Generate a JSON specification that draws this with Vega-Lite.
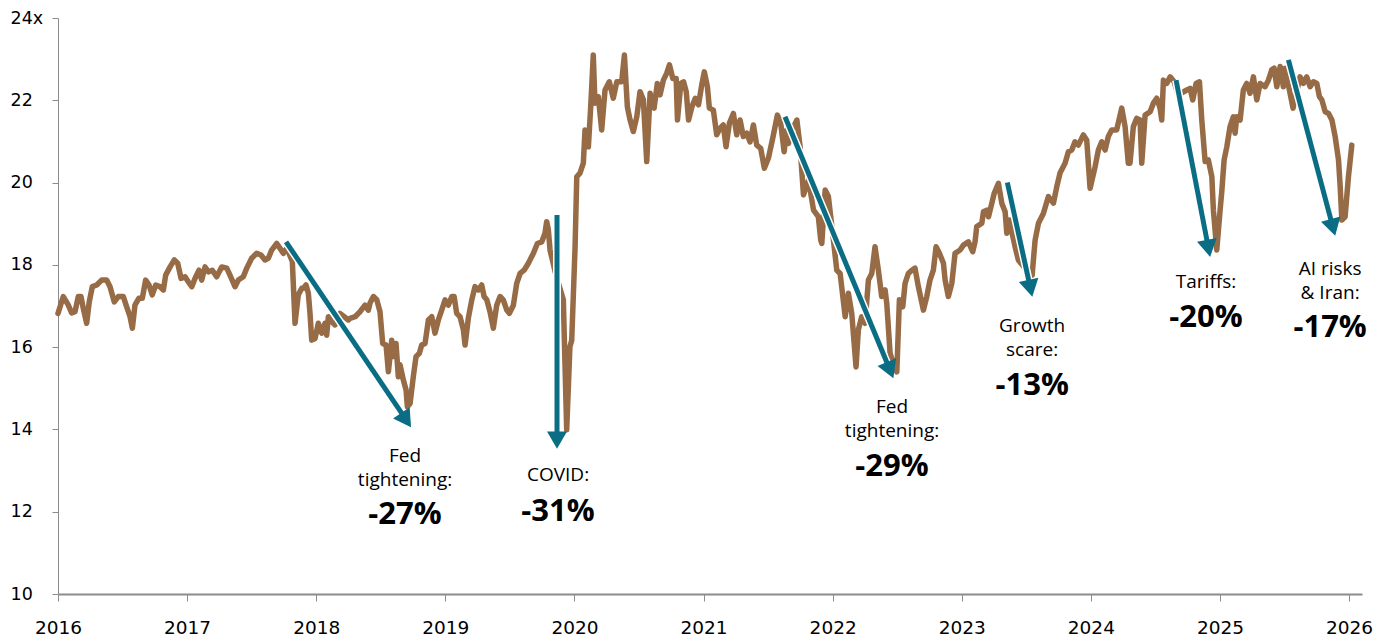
{
"$schema": "https://vega.github.io/schema/vega-lite/v6.json",
"width": 1304,
"height": 576,
"autosize": {"type": "none"},
"padding": {"left": 58, "top": 18, "right": 20, "bottom": 45},
"background": "white",
"config": {"view": {"stroke": null}},
"datasets": {
"pe": [
{"year":2016.000,"pe":16.82},{"year":2016.041,"pe":17.23},{"year":2016.080,"pe":17.02},{"year":2016.106,"pe":16.83},{"year":2016.132,"pe":16.86},{"year":2016.157,"pe":17.23},{"year":2016.178,"pe":17.23},{"year":2016.196,"pe":16.94},{"year":2016.222,"pe":16.58},{"year":2016.242,"pe":17.10},
{"year":2016.266,"pe":17.47},{"year":2016.300,"pe":17.51},{"year":2016.338,"pe":17.63},{"year":2016.377,"pe":17.63},{"year":2016.403,"pe":17.47},{"year":2016.436,"pe":17.10},{"year":2016.467,"pe":17.23},{"year":2016.506,"pe":17.23},{"year":2016.532,"pe":16.98},{"year":2016.558,"pe":16.74},
{"year":2016.576,"pe":16.46},{"year":2016.596,"pe":17.02},{"year":2016.627,"pe":17.19},{"year":2016.653,"pe":17.19},{"year":2016.679,"pe":17.63},{"year":2016.705,"pe":17.51},{"year":2016.730,"pe":17.27},{"year":2016.757,"pe":17.51},{"year":2016.790,"pe":17.47},{"year":2016.816,"pe":17.39},
{"year":2016.834,"pe":17.75},{"year":2016.868,"pe":17.95},{"year":2016.901,"pe":18.12},{"year":2016.927,"pe":18.04},{"year":2016.953,"pe":17.67},{"year":2016.984,"pe":17.71},{"year":2017.009,"pe":17.59},{"year":2017.036,"pe":17.47},{"year":2017.061,"pe":17.67},{"year":2017.092,"pe":17.87},
{"year":2017.113,"pe":17.63},{"year":2017.139,"pe":17.95},{"year":2017.164,"pe":17.83},{"year":2017.195,"pe":17.87},{"year":2017.229,"pe":17.71},{"year":2017.268,"pe":17.95},{"year":2017.307,"pe":17.92},{"year":2017.332,"pe":17.75},{"year":2017.371,"pe":17.47},{"year":2017.397,"pe":17.63},
{"year":2017.435,"pe":17.71},{"year":2017.462,"pe":17.92},{"year":2017.500,"pe":18.16},{"year":2017.539,"pe":18.28},{"year":2017.572,"pe":18.24},{"year":2017.603,"pe":18.12},{"year":2017.629,"pe":18.16},{"year":2017.655,"pe":18.36},{"year":2017.694,"pe":18.52},{"year":2017.720,"pe":18.40},
{"year":2017.745,"pe":18.28},{"year":2017.772,"pe":18.40},{"year":2017.784,"pe":18.32},{"year":2017.815,"pe":18.08},{"year":2017.836,"pe":16.58},{"year":2017.861,"pe":17.27},{"year":2017.888,"pe":17.43},{"year":2017.900,"pe":17.43},{"year":2017.921,"pe":17.51},{"year":2017.939,"pe":17.31},
{"year":2017.952,"pe":16.82},{"year":2017.965,"pe":16.17},{"year":2017.991,"pe":16.21},{"year":2018.016,"pe":16.58},{"year":2018.043,"pe":16.34},{"year":2018.068,"pe":16.58},{"year":2018.081,"pe":16.29},{"year":2018.094,"pe":16.74},{"year":2018.120,"pe":16.62},{"year":2018.146,"pe":16.54},
{"year":2018.184,"pe":16.82},{"year":2018.249,"pe":16.66},{"year":2018.262,"pe":16.70},{"year":2018.301,"pe":16.74},{"year":2018.339,"pe":16.86},{"year":2018.378,"pe":17.02},{"year":2018.404,"pe":16.90},{"year":2018.417,"pe":17.07},{"year":2018.443,"pe":17.23},{"year":2018.469,"pe":17.15},
{"year":2018.494,"pe":16.86},{"year":2018.515,"pe":16.09},{"year":2018.541,"pe":16.05},{"year":2018.559,"pe":15.40},{"year":2018.585,"pe":16.17},{"year":2018.597,"pe":15.77},{"year":2018.618,"pe":16.09},{"year":2018.636,"pe":15.28},{"year":2018.649,"pe":15.57},{"year":2018.675,"pe":15.20},
{"year":2018.696,"pe":14.96},{"year":2018.706,"pe":14.55},{"year":2018.727,"pe":14.63},{"year":2018.752,"pe":15.28},{"year":2018.773,"pe":15.77},{"year":2018.799,"pe":15.85},{"year":2018.817,"pe":16.05},{"year":2018.843,"pe":16.09},{"year":2018.869,"pe":16.66},{"year":2018.895,"pe":16.74},
{"year":2018.920,"pe":16.34},{"year":2018.946,"pe":16.66},{"year":2018.972,"pe":16.90},{"year":2018.998,"pe":17.15},{"year":2019.023,"pe":17.02},{"year":2019.050,"pe":17.23},{"year":2019.068,"pe":17.23},{"year":2019.088,"pe":16.82},{"year":2019.114,"pe":16.74},{"year":2019.140,"pe":16.42},
{"year":2019.153,"pe":16.05},{"year":2019.178,"pe":16.70},{"year":2019.205,"pe":17.15},{"year":2019.230,"pe":17.47},{"year":2019.256,"pe":17.39},{"year":2019.282,"pe":17.51},{"year":2019.300,"pe":17.23},{"year":2019.321,"pe":17.15},{"year":2019.346,"pe":16.86},{"year":2019.372,"pe":16.46},
{"year":2019.398,"pe":17.02},{"year":2019.424,"pe":17.23},{"year":2019.449,"pe":17.15},{"year":2019.476,"pe":16.90},{"year":2019.496,"pe":16.82},{"year":2019.527,"pe":17.02},{"year":2019.553,"pe":17.55},{"year":2019.579,"pe":17.79},{"year":2019.610,"pe":17.87},{"year":2019.643,"pe":18.04},
{"year":2019.682,"pe":18.28},{"year":2019.713,"pe":18.52},{"year":2019.747,"pe":18.56},{"year":2019.772,"pe":18.77},{"year":2019.785,"pe":19.05},{"year":2019.798,"pe":18.85},{"year":2019.811,"pe":18.36},{"year":2019.857,"pe":17.75},{"year":2019.914,"pe":17.15},{"year":2019.927,"pe":15.57},
{"year":2019.940,"pe":13.99},{"year":2019.965,"pe":16.01},{"year":2019.979,"pe":16.17},{"year":2020.005,"pe":18.44},{"year":2020.018,"pe":20.14},{"year":2020.043,"pe":20.23},{"year":2020.069,"pe":20.47},{"year":2020.082,"pe":21.28},{"year":2020.095,"pe":20.87},{"year":2020.108,"pe":20.87},
{"year":2020.126,"pe":21.84},{"year":2020.146,"pe":23.10},{"year":2020.159,"pe":21.93},{"year":2020.185,"pe":22.09},{"year":2020.211,"pe":21.28},{"year":2020.237,"pe":22.25},{"year":2020.270,"pe":22.45},{"year":2020.301,"pe":22.05},{"year":2020.328,"pe":22.45},{"year":2020.366,"pe":22.45},
{"year":2020.387,"pe":23.10},{"year":2020.410,"pe":21.84},{"year":2020.431,"pe":21.52},{"year":2020.456,"pe":21.24},{"year":2020.483,"pe":21.60},{"year":2020.508,"pe":22.21},{"year":2020.534,"pe":22.01},{"year":2020.560,"pe":20.51},{"year":2020.586,"pe":22.17},{"year":2020.617,"pe":21.81},
{"year":2020.642,"pe":22.41},{"year":2020.663,"pe":22.13},{"year":2020.689,"pe":22.49},{"year":2020.715,"pe":22.66},{"year":2020.736,"pe":22.86},{"year":2020.762,"pe":22.53},{"year":2020.788,"pe":22.53},{"year":2020.798,"pe":21.52},{"year":2020.824,"pe":22.41},{"year":2020.845,"pe":22.45},
{"year":2020.866,"pe":22.21},{"year":2020.884,"pe":21.52},{"year":2020.910,"pe":21.84},{"year":2020.936,"pe":22.05},{"year":2020.961,"pe":21.89},{"year":2020.986,"pe":22.37},{"year":2021.006,"pe":22.69},{"year":2021.030,"pe":22.33},{"year":2021.045,"pe":21.81},{"year":2021.076,"pe":21.76},
{"year":2021.102,"pe":21.16},{"year":2021.128,"pe":21.32},{"year":2021.153,"pe":21.40},{"year":2021.174,"pe":20.87},{"year":2021.200,"pe":21.44},{"year":2021.231,"pe":21.68},{"year":2021.257,"pe":21.16},{"year":2021.283,"pe":21.52},{"year":2021.308,"pe":21.12},{"year":2021.335,"pe":21.20},
{"year":2021.360,"pe":20.99},{"year":2021.386,"pe":21.40},{"year":2021.412,"pe":20.91},{"year":2021.443,"pe":20.83},{"year":2021.471,"pe":20.35},{"year":2021.502,"pe":20.59},{"year":2021.536,"pe":21.08},{"year":2021.572,"pe":21.64},{"year":2021.598,"pe":21.44},{"year":2021.624,"pe":20.75},
{"year":2021.645,"pe":21.28},{"year":2021.658,"pe":20.95},{"year":2021.692,"pe":21.32},{"year":2021.723,"pe":21.52},{"year":2021.748,"pe":20.87},{"year":2021.774,"pe":19.70},{"year":2021.813,"pe":20.06},{"year":2021.852,"pe":19.33},{"year":2021.889,"pe":19.17},{"year":2021.908,"pe":18.60},
{"year":2021.916,"pe":18.52},{"year":2021.942,"pe":19.82},{"year":2021.967,"pe":19.66},{"year":2022.006,"pe":18.60},{"year":2022.032,"pe":17.87},{"year":2022.058,"pe":17.79},{"year":2022.097,"pe":16.74},{"year":2022.122,"pe":17.31},{"year":2022.148,"pe":16.82},{"year":2022.181,"pe":15.52},
{"year":2022.199,"pe":16.42},{"year":2022.225,"pe":16.74},{"year":2022.251,"pe":16.58},{"year":2022.277,"pe":17.63},{"year":2022.303,"pe":17.79},{"year":2022.328,"pe":18.44},{"year":2022.354,"pe":17.87},{"year":2022.380,"pe":17.23},{"year":2022.406,"pe":17.39},{"year":2022.419,"pe":17.07},
{"year":2022.445,"pe":15.85},{"year":2022.476,"pe":15.52},{"year":2022.497,"pe":15.40},{"year":2022.517,"pe":17.15},{"year":2022.543,"pe":16.98},{"year":2022.561,"pe":17.55},{"year":2022.586,"pe":17.79},{"year":2022.613,"pe":17.87},{"year":2022.638,"pe":17.92},{"year":2022.664,"pe":17.47},
{"year":2022.703,"pe":16.90},{"year":2022.729,"pe":17.23},{"year":2022.754,"pe":17.63},{"year":2022.780,"pe":17.87},{"year":2022.801,"pe":18.44},{"year":2022.827,"pe":18.28},{"year":2022.858,"pe":18.04},{"year":2022.871,"pe":17.63},{"year":2022.896,"pe":17.23},{"year":2022.923,"pe":17.55},
{"year":2022.948,"pe":18.28},{"year":2022.987,"pe":18.36},{"year":2023.013,"pe":18.48},{"year":2023.051,"pe":18.56},{"year":2023.085,"pe":18.32},{"year":2023.103,"pe":18.56},{"year":2023.116,"pe":18.93},{"year":2023.155,"pe":19.01},{"year":2023.168,"pe":19.29},{"year":2023.194,"pe":19.33},
{"year":2023.207,"pe":19.17},{"year":2023.233,"pe":19.50},{"year":2023.251,"pe":19.74},{"year":2023.284,"pe":19.98},{"year":2023.310,"pe":19.50},{"year":2023.336,"pe":19.29},{"year":2023.349,"pe":18.77},{"year":2023.369,"pe":19.09},{"year":2023.387,"pe":18.81},{"year":2023.413,"pe":18.44},
{"year":2023.438,"pe":18.12},{"year":2023.490,"pe":17.92},{"year":2023.545,"pe":17.75},{"year":2023.568,"pe":18.60},{"year":2023.594,"pe":19.01},{"year":2023.632,"pe":19.25},{"year":2023.671,"pe":19.66},{"year":2023.710,"pe":19.50},{"year":2023.736,"pe":19.90},{"year":2023.761,"pe":20.23},
{"year":2023.800,"pe":20.47},{"year":2023.826,"pe":20.75},{"year":2023.852,"pe":20.79},{"year":2023.877,"pe":20.99},{"year":2023.903,"pe":20.91},{"year":2023.942,"pe":21.16},{"year":2023.968,"pe":21.03},{"year":2023.994,"pe":19.86},{"year":2024.033,"pe":20.39},{"year":2024.058,"pe":20.79},
{"year":2024.084,"pe":20.99},{"year":2024.110,"pe":20.79},{"year":2024.135,"pe":21.12},{"year":2024.161,"pe":21.28},{"year":2024.200,"pe":21.28},{"year":2024.239,"pe":21.81},{"year":2024.265,"pe":21.36},{"year":2024.290,"pe":20.47},{"year":2024.303,"pe":20.47},{"year":2024.329,"pe":21.36},
{"year":2024.355,"pe":21.56},{"year":2024.381,"pe":21.52},{"year":2024.394,"pe":20.47},{"year":2024.420,"pe":21.64},{"year":2024.459,"pe":21.72},{"year":2024.484,"pe":21.93},{"year":2024.510,"pe":22.05},{"year":2024.536,"pe":21.81},{"year":2024.549,"pe":21.52},{"year":2024.562,"pe":22.49},
{"year":2024.588,"pe":22.41},{"year":2024.614,"pe":22.57},{"year":2024.645,"pe":22.45},{"year":2024.676,"pe":22.13},{"year":2024.743,"pe":22.25},{"year":2024.769,"pe":22.29},{"year":2024.789,"pe":22.01},{"year":2024.815,"pe":22.41},{"year":2024.841,"pe":22.45},{"year":2024.859,"pe":21.52},
{"year":2024.885,"pe":20.51},{"year":2024.910,"pe":20.55},{"year":2024.937,"pe":20.14},{"year":2024.949,"pe":19.33},{"year":2024.975,"pe":18.36},{"year":2025.001,"pe":19.33},{"year":2025.014,"pe":19.78},{"year":2025.032,"pe":20.55},{"year":2025.053,"pe":20.87},{"year":2025.078,"pe":21.36},
{"year":2025.104,"pe":21.60},{"year":2025.117,"pe":21.20},{"year":2025.130,"pe":21.60},{"year":2025.156,"pe":21.52},{"year":2025.181,"pe":22.25},{"year":2025.207,"pe":22.41},{"year":2025.233,"pe":22.17},{"year":2025.259,"pe":22.57},{"year":2025.285,"pe":22.01},{"year":2025.311,"pe":22.41},
{"year":2025.349,"pe":22.33},{"year":2025.375,"pe":22.49},{"year":2025.401,"pe":22.74},{"year":2025.419,"pe":22.78},{"year":2025.440,"pe":22.33},{"year":2025.466,"pe":22.82},{"year":2025.491,"pe":22.33},{"year":2025.504,"pe":22.78},{"year":2025.566,"pe":21.81},{"year":2025.620,"pe":22.57},
{"year":2025.646,"pe":22.41},{"year":2025.672,"pe":22.57},{"year":2025.698,"pe":22.33},{"year":2025.724,"pe":22.45},{"year":2025.750,"pe":22.41},{"year":2025.770,"pe":22.09},{"year":2025.789,"pe":22.01},{"year":2025.815,"pe":21.72},{"year":2025.841,"pe":21.68},{"year":2025.867,"pe":21.52},
{"year":2025.892,"pe":21.12},{"year":2025.918,"pe":20.55},{"year":2025.931,"pe":19.90},{"year":2025.944,"pe":19.09},{"year":2025.969,"pe":19.17},{"year":2025.995,"pe":20.14},{"year":2026.021,"pe":20.91}
],
"arrows": [
{"year":2017.766,"pe":18.56,"year2":2018.697,"pe2":14.23},
{"year":2019.865,"pe":19.21,"year2":2019.865,"pe2":13.74},
{"year":2021.631,"pe":21.60,"year2":2022.445,"pe2":15.44},
{"year":2023.353,"pe":20.00,"year2":2023.532,"pe2":17.43},
{"year":2024.660,"pe":22.49,"year2":2024.911,"pe2":18.40},
{"year":2025.530,"pe":22.98,"year2":2025.875,"pe2":18.91}
],
"heads": [
{"year":2018.697,"pe":14.23,"angle":-34},
{"year":2019.865,"pe":13.74,"angle":0},
{"year":2022.445,"pe":15.44,"angle":-22.4},
{"year":2023.532,"pe":17.43,"angle":-12.4},
{"year":2024.911,"pe":18.40,"angle":-10.9},
{"year":2025.875,"pe":18.91,"angle":-15}
],
"notes": [
{"year":2018.688,"pe":13.35,"text":"Fed\ntightening:"},
{"year":2019.873,"pe":12.89,"text":"COVID:"},
{"year":2022.460,"pe":14.54,"text":"Fed\ntightening:"},
{"year":2023.545,"pe":16.51,"text":"Growth\nscare:"},
{"year":2024.892,"pe":17.58,"text":"Tariffs:"},
{"year":2025.853,"pe":17.89,"text":"AI risks\n& Iran:"}
],
"changes": [
{"year":2018.688,"pe":11.92,"text":"-27%"},
{"year":2019.873,"pe":12.00,"text":"-31%"},
{"year":2022.460,"pe":13.09,"text":"-29%"},
{"year":2023.545,"pe":15.05,"text":"-13%"},
{"year":2024.892,"pe":16.70,"text":"-20%"},
{"year":2025.853,"pe":16.47,"text":"-17%"}
]
},
"encoding": {
"x": {"field": "year", "type": "quantitative", "scale": {"domain": [2016, 2026.1], "nice": false, "zero": false},
"axis": {"title": null, "values": [2016,2017,2018,2019,2020,2021,2022,2023,2024,2025,2026], "format": "d", "grid": false, "labelFont": "DejaVu Sans", "labelFontSize": 18.5, "labelColor": "#000000", "labelPadding": 17, "tickSize": 7, "tickColor": "#8c8c8c", "tickWidth": 1, "domainColor": "#8c8c8c", "domainWidth": 2, "labelFlush": false, "labelOverlap": false}},
"y": {"field": "pe", "type": "quantitative", "scale": {"domain": [10, 24], "nice": false, "zero": false},
"axis": {"title": null, "values": [10,12,14,16,18,20,22,24], "labelExpr": "datum.value == 24 ? '24x' : datum.label", "grid": false, "labelFont": "DejaVu Sans", "labelFontSize": 17.5, "labelColor": "#000000", "labelAlign": "left", "labelBaseline": "middle", "labelPadding": 42, "tickSize": 6, "tickColor": "#8c8c8c", "domainColor": "#8c8c8c", "domainWidth": 1, "labelFlush": false, "labelOverlap": false}}
},
"layer": [
{"data": {"name": "pe"}, "mark": {"type": "line", "color": "#966B45", "strokeWidth": 5.5, "strokeJoin": "round", "strokeCap": "round"}},
{"data": {"name": "arrows"}, "mark": {"type": "rule", "color": "#ffffff", "strokeWidth": 8}, "encoding": {"x2": {"field": "year2"}, "y2": {"field": "pe2"}}},
{"data": {"name": "arrows"}, "mark": {"type": "rule", "color": "#0B6D84", "strokeWidth": 5}, "encoding": {"x2": {"field": "year2"}, "y2": {"field": "pe2"}}},
{"data": {"name": "heads"}, "mark": {"type": "point", "shape": "triangle-down", "filled": true, "size": 400, "color": "#0B6D84", "opacity": 1, "strokeWidth": 0},
"encoding": {"angle": {"field": "angle", "type": "quantitative", "scale": null}}},
{"data": {"name": "notes"}, "mark": {"type": "text", "font": "Open Sans", "fontSize": 19, "lineBreak": "\n", "lineHeight": 23.5, "color": "#000000", "align": "center", "baseline": "middle"}, "encoding": {"text": {"field": "text"}}},
{"data": {"name": "changes"}, "mark": {"type": "text", "font": "Open Sans", "fontSize": 31, "fontWeight": "bold", "color": "#000000", "align": "center", "baseline": "middle"}, "encoding": {"text": {"field": "text"}}}
]
}
